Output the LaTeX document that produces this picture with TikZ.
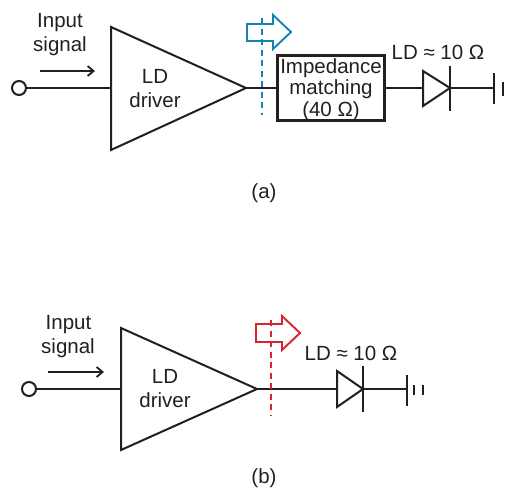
\documentclass[tikz,border=0pt]{standalone}
\usepackage{fontspec}
\setmainfont{Liberation Sans}
\definecolor{ink}{HTML}{231F20}
\definecolor{blueish}{HTML}{1483B4}
\definecolor{redish}{HTML}{D9232E}
\usetikzlibrary{arrows.meta}
\tikzset{
  wire/.style={draw=ink,line width=2pt},
  lbl/.style={inner sep=0pt,anchor=base,text=ink,font=\fontsize{20.5}{24}\selectfont},
  terminal/.style={circle,draw=ink,line width=2pt,fill=white,minimum size=14pt,inner sep=0pt},
  matchbox/.style={draw=ink,line width=2.2pt,minimum width=107pt,minimum height=65pt,inner sep=0pt},
  sig/.style={draw=ink,line width=1.6pt,-{Straight Barb[length=6pt,width=10pt,line width=1.8pt]}},
  probe/.style={line width=1.8pt,dash pattern=on 6pt off 4.5pt},
  flow/.style={line width=1.9pt,fill=none,line join=miter}
}
\begin{document}
\begin{tikzpicture}[x=1pt,y=-1pt]
\useasboundingbox (0,0) rectangle (507,488);
% (a)
\coordinate (a1) at (111,88);
\coordinate (a2) at (246,88);
\node[terminal] (ain) at (19,88) {};
\draw[wire] (ain) -- (a1);
\draw[wire,line join=miter] (111,27) -- (a2) -- (111,150) -- cycle;
\node[matchbox] (match) at (331,88) {};
\node[lbl] (m1) at (331,73) {Impedance};
\node[lbl] (m2) at (331,94.5) {matching};
\node[lbl] (m3) at (331,116) {(40 Ω)};
\draw[wire] (a2) -- (match.west);
\coordinate (ad1) at (423,88);
\coordinate (ad2) at (450,88);
\coordinate (ag) at (494,88);
\draw[wire] (match.east) -- (ad1);
\draw[wire,line join=miter] (423,71) -- (ad2) -- (423,106) -- cycle;
\draw[wire] (450,66) -- (450,111);
\draw[wire] (ad2) -- (ag);
\draw[wire] (494,73) -- (494,104);
\draw[wire] (503,82) -- (503,96);
\draw[sig] (40,71) -- (95,71);
\node[lbl] (ainput) at (60,27) {Input};
\node[lbl] (asignal) at (60,51) {signal};
\node[lbl] (ald) at (155,83) {LD};
\node[lbl] (adrv) at (155,107) {driver};
\node[lbl] (aldv) at (438,59) {LD ≈ 10 Ω};
\node[lbl] (acap) at (264,198) {(a)};
\draw[probe,draw=blueish] (262,18) -- (262,115);
\draw[flow,draw=blueish] (247,24) -- (273,24) -- (273,15) -- (291,32) -- (273,49) -- (273,41) -- (247,41) -- cycle;
% (b)
\coordinate (b1) at (121,389);
\coordinate (b2) at (257,389);
\coordinate (bd1) at (337,389);
\coordinate (bd2) at (363,389);
\coordinate (bg) at (407,389);
\node[terminal] (bin) at (29,389) {};
\draw[wire] (bin) -- (b1);
\draw[wire,line join=miter] (121,328) -- (b2) -- (121,450) -- cycle;
\draw[wire] (b2) -- (bd1);
\draw[wire,line join=miter] (337,371) -- (bd2) -- (337,407) -- cycle;
\draw[wire] (363,366) -- (363,412);
\draw[wire] (bd2) -- (bg);
\draw[wire] (407,375) -- (407,406);
\draw[wire] (414,385) -- (414,395);
\draw[wire] (423,385) -- (423,395);
\draw[sig] (48,372) -- (104,372);
\node[lbl] (binput) at (68.5,329) {Input};
\node[lbl] (bsignal) at (68,353) {signal};
\node[lbl] (bld) at (165,383) {LD};
\node[lbl] (bdrv) at (165,407) {driver};
\node[lbl] (bldv) at (351,360) {LD ≈ 10 Ω};
\node[lbl] (bcap) at (264,483) {(b)};
\draw[probe,draw=redish] (271,320) -- (271,415);
\draw[flow,draw=redish] (256,324) -- (282,324) -- (282,316) -- (300,333) -- (282,350) -- (282,342) -- (256,342) -- cycle;
\end{tikzpicture}
\end{document}
